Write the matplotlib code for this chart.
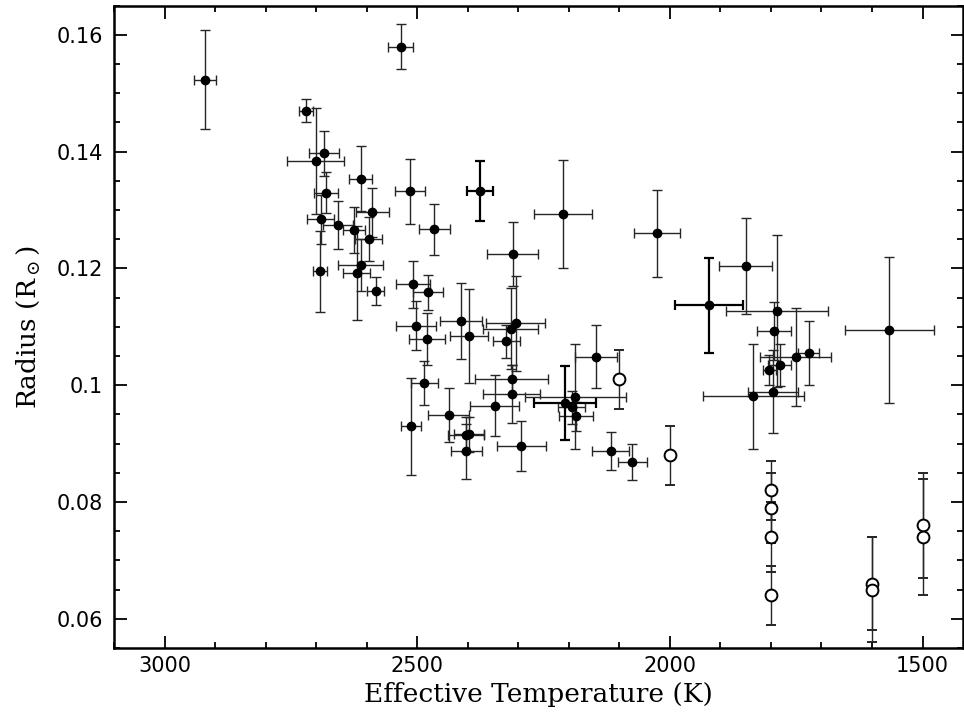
import numpy as np
import matplotlib
matplotlib.use("Agg")
import matplotlib.pyplot as plt
from matplotlib.ticker import MultipleLocator

# filled points: effective temperature (K), radius (Rsun) with errors
teff = [2920, 2533, 2720, 2684, 2701, 2681, 2612, 2589, 2514, 2691,
        2657, 2466, 2625, 2596, 2612, 2620, 2692, 2582, 2508, 2478,
        2502, 2481, 2413, 2398, 2311, 2305, 2315, 2324, 2486, 2512,
        2438, 2404, 2397, 2403, 2313, 2313, 2347, 2294, 2187, 2194,
        2186, 2146, 2117, 2074, 2212, 2026, 1850, 1788, 1794, 1725,
        1751, 1783, 1803, 1796, 1835, 1566]
teff_err = [22, 25, 14, 30, 56, 24, 23, 33, 29, 27,
            30, 30, 22, 27, 44, 26, 14, 17, 33, 30,
            40, 36, 41, 38, 51, 58, 54, 27, 27, 20,
            41, 36, 30, 31, 72, 56, 48, 48, 100, 27,
            33, 42, 37, 28, 57, 46, 53, 100, 33, 21,
            70, 22, 13, 50, 100, 88]
radius = [0.1523, 0.1580, 0.1470, 0.1397, 0.1384, 0.1330, 0.1354, 0.1296, 0.1332, 0.1284,
          0.1274, 0.1267, 0.1266, 0.1250, 0.1206, 0.1192, 0.1195, 0.1162, 0.1173, 0.1159,
          0.1102, 0.1079, 0.1110, 0.1084, 0.1225, 0.1106, 0.1097, 0.1075, 0.1004, 0.0930,
          0.0949, 0.0915, 0.0916, 0.0887, 0.1010, 0.0985, 0.0965, 0.0896, 0.0980, 0.0962,
          0.0947, 0.1049, 0.0887, 0.0869, 0.1293, 0.1260, 0.1204, 0.1127, 0.1093, 0.1055,
          0.1049, 0.1034, 0.1026, 0.0989, 0.0981, 0.1094]
radius_err = [0.0085, 0.0039, 0.0020, 0.0038, 0.0090, 0.0035, 0.0056, 0.0042, 0.0056, 0.0042,
              0.0041, 0.0044, 0.0039, 0.0038, 0.0045, 0.0080, 0.0069, 0.0024, 0.0040, 0.0030,
              0.0042, 0.0045, 0.0065, 0.0080, 0.0055, 0.0081, 0.0069, 0.0028, 0.0037, 0.0083,
              0.0046, 0.0030, 0.0030, 0.0047, 0.0025, 0.0050, 0.0052, 0.0043, 0.0090, 0.0028,
              0.0025, 0.0054, 0.0033, 0.0031, 0.0092, 0.0075, 0.0082, 0.0130, 0.0050, 0.0055,
              0.0084, 0.0036, 0.0026, 0.0071, 0.0090, 0.0125]

# filled points drawn with heavy error bars
teff_b = [2376, 2207, 1923]
teff_b_err = [25, 61, 67]
radius_b = [0.1333, 0.0970, 0.1137]
radius_b_err = [0.0051, 0.0063, 0.0081]

# open circles: radius errors only
teff_o = [2100, 2000, 1800, 1800, 1800, 1800, 1600, 1600, 1500, 1500]
radius_o = [0.101, 0.088, 0.082, 0.079, 0.074, 0.064, 0.066, 0.065, 0.076, 0.074]
radius_o_err = [0.005, 0.005, 0.005, 0.006, 0.006, 0.005, 0.008, 0.009, 0.009, 0.010]

plt.rcParams['mathtext.fontset'] = 'dejavuserif'

fig = plt.figure(figsize=(9.64, 7.15), dpi=100)
ax = fig.add_axes([114 / 964, 1 - 648 / 715, (963 - 114) / 964, (648 - 5.7) / 715])

ax.errorbar(teff, radius, xerr=teff_err, yerr=radius_err, fmt='o', color='black',
            ms=6, ecolor='0.15', elinewidth=1.0, capsize=3.5, capthick=1.0)
ax.errorbar(teff_b, radius_b, xerr=teff_b_err, yerr=radius_b_err, fmt='o', color='black',
            ms=6, ecolor='black', elinewidth=1.6, capsize=3.5, capthick=1.6)
ax.errorbar(teff_o, radius_o, yerr=radius_o_err, fmt='o', mfc='white', mec='black',
            mew=1.4, ms=8.5, ecolor='0.15', elinewidth=1.0, capsize=3.5, capthick=1.0)

ax.set_xlim(3100, 1420)
ax.set_ylim(0.055, 0.165)
ax.xaxis.set_major_locator(MultipleLocator(500))
ax.xaxis.set_minor_locator(MultipleLocator(100))
ax.yaxis.set_major_locator(MultipleLocator(0.02))
ax.yaxis.set_minor_locator(MultipleLocator(0.005))
ax.yaxis.set_major_formatter(matplotlib.ticker.FuncFormatter(lambda v, p: '0.1' if abs(v - 0.1) < 1e-9 else '%.2f' % v))

ax.tick_params(which='both', direction='in', top=True, right=True, width=1.3, colors='black')
ax.tick_params(which='major', length=9, labelsize=15, pad=8)
ax.tick_params(axis='x', which='major', pad=6)
ax.tick_params(which='minor', length=4.5)
for s in ax.spines.values():
    s.set_linewidth(1.8)

ax.set_xlabel('Effective Temperature (K)', family='DejaVu Serif', fontsize=19, labelpad=4)
ax.set_ylabel(r'Radius (R$_\odot$)', family='DejaVu Serif', fontsize=19, labelpad=10)

fig.savefig('out.png', dpi=100)
